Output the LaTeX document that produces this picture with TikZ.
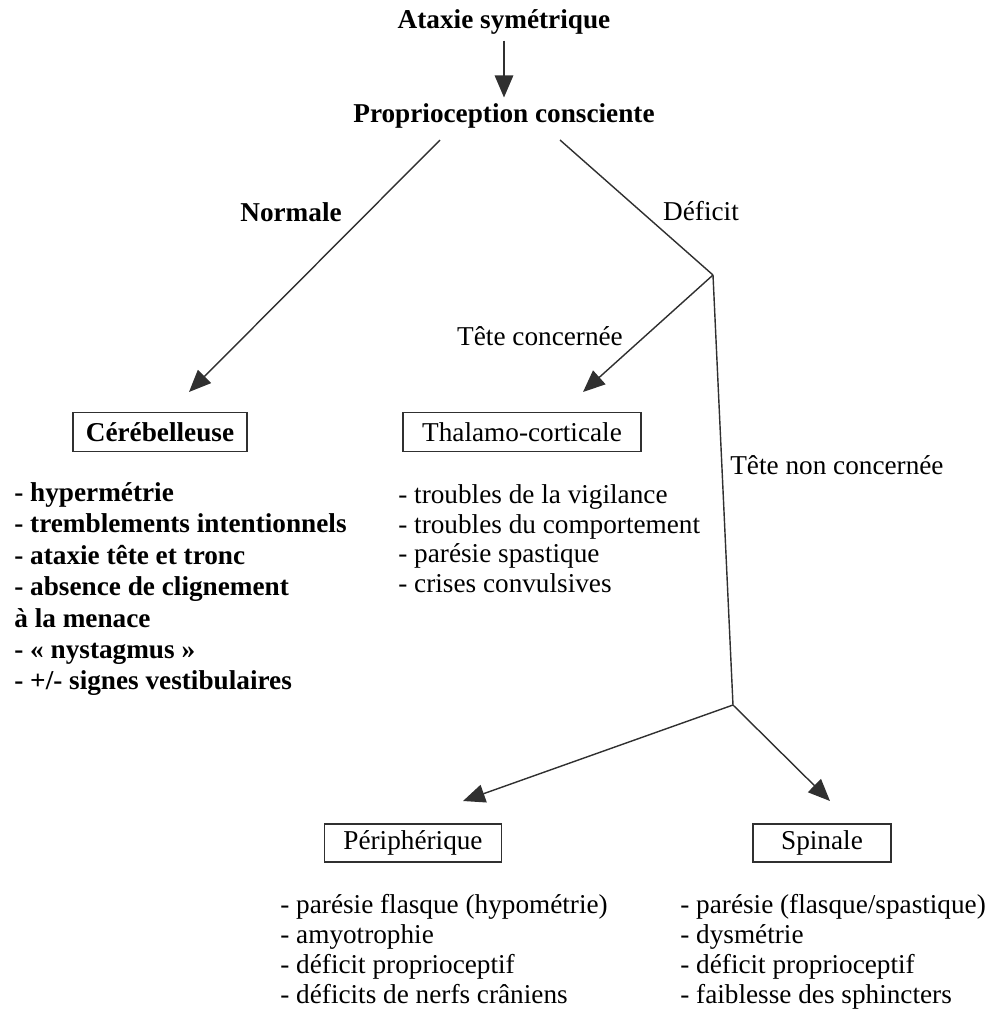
\documentclass[tikz,border=0pt]{standalone}
\usepackage{fontspec}
\setmainfont{Liberation Serif}
\usepackage{xcolor}
\definecolor{inkgray}{HTML}{303030}
\usetikzlibrary{arrows.meta}

\begin{document}
\begin{tikzpicture}[
  x=0.02cm, y=-0.02cm,
  heading/.style={font=\fontsize{15.5}{18}\selectfont\bfseries, align=center},
  branch/.style={font=\fontsize{15.5}{18}\selectfont, inner sep=0pt},
  boxed/.style={
    draw=inkgray, line width=0.8pt,
    minimum height=0.78cm, inner sep=2pt,
    font=\fontsize{15.5}{18}\selectfont
  },
  signs/.style={font=\fontsize{15.5}{17}\selectfont, align=left,
    anchor=north west, inner sep=0pt},
  link/.style={draw=inkgray, line width=0.8pt},
  arrow/.style={link, -{Triangle[length=12.5pt, width=10.5pt]}}
]
\useasboundingbox (0,0) rectangle (990,1019);

% ---- Haut ----
\node[heading] (ataxie) at (504,22) {Ataxie symétrique};
\node[heading] (prop) at (504,116) {Proprioception consciente};

% ---- Types d'ataxie ----
\node[boxed, minimum width=3.48cm, font=\fontsize{15.5}{18}\selectfont\bfseries] (cereb) at (160,432) {Cérébelleuse};
\node[boxed, minimum width=4.76cm] (thal) at (522,432) {Thalamo-corticale};
\node[boxed, minimum width=3.54cm, minimum height=0.76cm] (periph) at (413,843) {Périphérique};
\node[boxed, minimum width=2.76cm, minimum height=0.76cm] (spin) at (822,843) {Spinale};

% ---- Signes ----
\node[signs, font=\fontsize{15.5}{17.9}\selectfont\bfseries] (cersigns) at (14,482) {
  - hypermétrie\\
  - tremblements intentionnels\\
  - ataxie tête et tronc\\
  - absence de clignement\\
  à la menace\\
  - « nystagmus »\\
  - +/- signes vestibulaires
};
\node[signs] (thalsigns) at (398,484) {
  - troubles de la vigilance\\
  - troubles du comportement\\
  - parésie spastique\\
  - crises convulsives
};
\node[signs] (perisigns) at (280,894) {
  - parésie flasque (hypométrie)\\
  - amyotrophie\\
  - déficit proprioceptif\\
  - déficits de nerfs crâniens
};
\node[signs] (spinsigns) at (680,894) {
  - parésie (flasque/spastique)\\
  - dysmétrie\\
  - déficit proprioceptif\\
  - faiblesse des sphincters
};

% Points de branchement
\coordinate (pleft) at (440,140);
\coordinate (pright) at (560,140);
\coordinate (jdef) at (713,275);
\coordinate (jspin) at (733,705);
\coordinate (tcer) at (189,392);
\coordinate (ttha) at (583,392);
\coordinate (tper) at (463,801);
\coordinate (tspi) at (830,801);

% Flèches
\draw[arrow] (ataxie) -- (prop);
\draw[arrow] (pleft) -- (tcer);
\draw[link] (pright) -- (jdef);
\draw[arrow] (jdef) -- (ttha);
\draw[link] (jdef) -- (jspin);
\draw[arrow] (jspin) -- (tper);
\draw[arrow] (jspin) -- (tspi);

% Etiquettes des branches
\node[branch, font=\fontsize{15.5}{18}\selectfont\bfseries] (normale) at (291,212) {Normale};
\node[branch] (deficit) at (701,211) {Déficit};
\node[branch] (tete) at (540,336) {Tête concernée};
\node[branch, anchor=west] (nontete) at (730,465) {Tête non concernée};

\end{tikzpicture}
\end{document}
